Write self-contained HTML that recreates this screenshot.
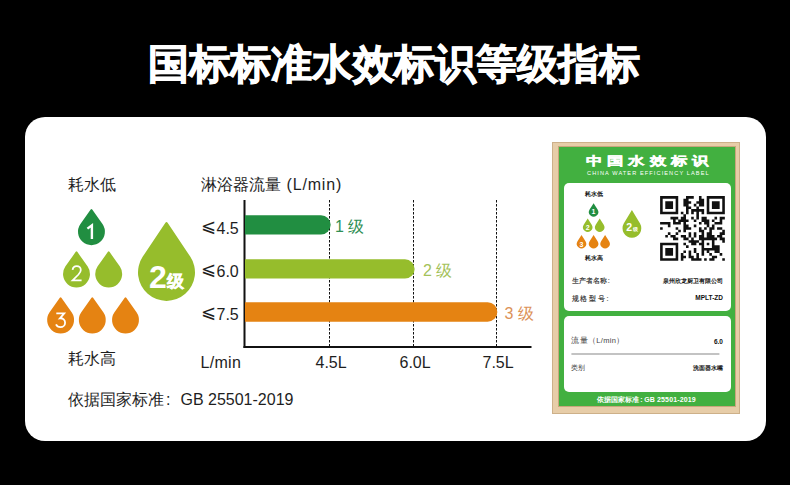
<!DOCTYPE html>
<html><head><meta charset="utf-8">
<style>
html,body{margin:0;padding:0}
body{width:790px;height:485px;background:#000;position:relative;overflow:hidden;font-family:"Liberation Sans",sans-serif}
.a{position:absolute;white-space:nowrap;line-height:1}
#title{left:148px;top:44px;color:#fff;font-size:40.6px;font-weight:bold;-webkit-text-stroke:1px #fff}
#card{left:25px;top:117px;width:741px;height:324px;background:#fff;border-radius:20px}
.t16{font-size:16px;color:#1e1e1e}
.g1{color:#2f8f55}.g2{color:#a4c25a}.g3{color:#dc9258}
.dig{color:#fff;font-size:20px}
#frame{left:552px;top:141.5px;width:187.5px;height:272px;background:#e7cda8;box-shadow:inset 0 0 0 1px #cdb089}
#green{left:558.8px;top:146.8px;width:176px;height:259.4px;background:#42b040;box-shadow:0 0 0 1px #c9a67c}
.pn{background:#fff;border-radius:5px}
.lt{font-size:7.3px;color:#2a2a2a;-webkit-text-stroke:0.15px #2a2a2a}
.lb{font-size:6px;color:#111;font-weight:bold}
.sd{font-size:7px;color:#fff;font-weight:bold}
</style></head><body>
<div class="a" id="title">国标标准水效标识等级指标</div>
<div class="a" id="card"></div>

<div class="a t16" style="left:68px;top:177px">耗水低</div>
<div class="a t16" style="left:68px;top:351px">耗水高</div>
<div class="a t16" style="left:68px;top:392px">依据国家标准<span style="margin-left:2px">:</span><span style="margin-left:10px">GB 25501-2019</span></div>

<svg class="a" style="left:0;top:0" width="790" height="485">
  <defs>
    <path id="drop" d="M-0.058,-1.668 Q0,-1.76 0.058,-1.668 L0.8327,-0.5714 A1,1 0 1 1 -0.8327,-0.5714 Z"/>
  </defs>
  <!-- left drops -->
  <use href="#drop" transform="translate(91.45,231.95) scale(13.45)" fill="#218e41"/>
  <use href="#drop" transform="translate(76.5,274.3) scale(13.45)" fill="#96bd2c"/>
  <use href="#drop" transform="translate(108.7,274.3) scale(13.45)" fill="#96bd2c"/>
  <use href="#drop" transform="translate(60.6,320.3) scale(13.45)" fill="#e58312"/>
  <use href="#drop" transform="translate(92.3,320.3) scale(13.45)" fill="#e58312"/>
  <use href="#drop" transform="translate(125.5,320.3) scale(13.45)" fill="#e58312"/>
  <path d="M-0.0444,-1.7335 Q0,-1.81 0.0444,-1.7335 L0.8315,-0.5556 A1,1 0 1 1 -0.8315,-0.5556 Z" transform="translate(166.5,272.4) scale(28.5)" fill="#96bd2c"/>
  <!-- chart axes -->
  <g stroke="#111" stroke-width="1" stroke-dasharray="2.5 1.5">
    <line x1="329.5" y1="200" x2="329.5" y2="346"/>
    <line x1="413.5" y1="200" x2="413.5" y2="346"/>
    <line x1="496.5" y1="200" x2="496.5" y2="346"/>
  </g>
  <rect x="243.5" y="200" width="2" height="148" fill="#111"/>
  <rect x="243.5" y="346" width="288" height="2" fill="#111"/>
  <path d="M245 215.2H321a9.65 9.65 0 0 1 0 19.3H245Z" fill="#218e41"/>
  <path d="M245 259.3H405a9.65 9.65 0 0 1 0 19.3H245Z" fill="#96bd2c"/>
  <path d="M245 302.2H487.6a9.75 9.75 0 0 1 0 19.5H245Z" fill="#e58312"/>
</svg>

<svg class="a" style="left:0;top:0" width="790" height="485" fill="none" stroke="#fff">
  <path d="M87.4,228.6 L91.9,225.3 V239.1" stroke-width="2.4"/>
  <path d="M72.6,269.8 C72.8,267.5 74.6,266.1 76.8,266.1 C79.1,266.1 80.8,267.8 80.8,270 C80.8,271.8 79.8,273.1 78.5,274.5 L72.6,280.3 H81.6" stroke-width="1.75"/>
  <path d="M56.3,313.4 H64.2 L59.9,318.3 C63.1,318 65.1,320.1 65.1,322.7 C65.1,325.3 63,327.2 60.4,327.2 C58.4,327.2 56.8,326.1 56,324.4" stroke-width="1.8"/>
</svg>
<div class="a" style="left:149px;top:261px;color:#fff;font-weight:bold"><span style="font-size:32px">2</span><span style="font-size:17px;position:relative;top:-1.5px;-webkit-text-stroke:0.4px #fff">级</span></div>

<div class="a t16" style="left:200.5px;top:177px">淋浴器流量 <span style="letter-spacing:0.85px;margin-left:1.5px">(L/min)</span></div>
<div class="a t16" style="left:201px;top:219px"><span style="position:relative;top:-2px;font-size:18px">⩽</span><span style="margin-left:0.5px">4.5</span></div>
<div class="a t16" style="left:201px;top:262px"><span style="position:relative;top:-2px;font-size:18px">⩽</span><span style="margin-left:0.5px">6.0</span></div>
<div class="a t16" style="left:201px;top:305px"><span style="position:relative;top:-2px;font-size:18px">⩽</span><span style="margin-left:0.5px">7.5</span></div>
<div class="a t16 g1" style="left:335px;top:219px">1 级</div>
<div class="a t16 g2" style="left:423px;top:262.5px">2 级</div>
<div class="a t16 g3" style="left:504.5px;top:305.5px">3 级</div>
<div class="a t16" style="left:200.5px;top:355px;letter-spacing:0.3px">L/min</div>
<div class="a t16" style="left:315.5px;top:354.5px">4.5L</div>
<div class="a t16" style="left:399.5px;top:354.5px">6.0L</div>
<div class="a t16" style="left:482.5px;top:354.5px">7.5L</div>

<!-- label -->
<div class="a" id="frame"></div>
<div class="a" id="green"></div>
<div class="a pn" style="left:563.5px;top:183px;width:167.5px;height:127.5px"></div>
<div class="a pn" style="left:563.5px;top:315.5px;width:167.5px;height:76.5px"></div>
<div class="a" style="left:586px;top:154.8px;color:#fff;font-size:14.5px;font-weight:bold;letter-spacing:3.9px;-webkit-text-stroke:0.5px #fff;transform:scale(1.12,0.82);transform-origin:0 0">中国水效标识</div>
<div class="a" style="left:587px;top:170.5px;color:#fff;font-size:5.6px;letter-spacing:1.1px">CHINA WATER EFFICIENCY LABEL</div>

<svg class="a" style="left:0;top:0" width="790" height="485">
  <defs>
    <path id="drop2" d="M0,-1.85 L0.8502,-0.5405 A1,1 0 1 1 -0.8502,-0.5405 Z"/>
  </defs>
  <use href="#drop2" transform="translate(593.6,212) scale(4.7)" fill="#218e41"/>
  <use href="#drop2" transform="translate(587.7,227.3) scale(4.7)" fill="#96bd2c"/>
  <use href="#drop2" transform="translate(599.7,227.3) scale(4.7)" fill="#96bd2c"/>
  <use href="#drop2" transform="translate(581.5,243.8) scale(4.7)" fill="#e58312"/>
  <use href="#drop2" transform="translate(593.6,243.8) scale(4.7)" fill="#e58312"/>
  <use href="#drop2" transform="translate(605.1,243.8) scale(4.7)" fill="#e58312"/>
  <path d="M0,-1.96 L0.8667,-0.5102 A1,1 0 1 1 -0.8667,-0.5102 Z" transform="translate(631.9,228.4) scale(9.4)" fill="#96bd2c"/>
  <g transform="translate(660.1,196.1) scale(2.59)" fill="#111"><path d="M0 0h7v1h-7zM10 0h3v1h-3zM15 0h1v1h-1zM18 0h7v1h-7zM0 1h1v1h-1zM6 1h1v1h-1zM9 1h2v1h-2zM15 1h2v1h-2zM18 1h1v1h-1zM24 1h1v1h-1zM0 2h1v1h-1zM2 2h3v1h-3zM6 2h1v1h-1zM9 2h3v1h-3zM14 2h3v1h-3zM18 2h1v1h-1zM20 2h3v1h-3zM24 2h1v1h-1zM0 3h1v1h-1zM2 3h3v1h-3zM6 3h1v1h-1zM9 3h2v1h-2zM13 3h1v1h-1zM15 3h2v1h-2zM18 3h1v1h-1zM20 3h3v1h-3zM24 3h1v1h-1zM0 4h1v1h-1zM2 4h3v1h-3zM6 4h1v1h-1zM10 4h2v1h-2zM14 4h1v1h-1zM18 4h1v1h-1zM20 4h3v1h-3zM24 4h1v1h-1zM0 5h1v1h-1zM6 5h1v1h-1zM10 5h1v1h-1zM12 5h5v1h-5zM18 5h1v1h-1zM24 5h1v1h-1zM0 6h7v1h-7zM8 6h1v1h-1zM10 6h1v1h-1zM12 6h1v1h-1zM14 6h1v1h-1zM16 6h1v1h-1zM18 6h7v1h-7zM9 7h1v1h-1zM14 7h1v1h-1zM4 8h3v1h-3zM8 8h2v1h-2zM12 8h1v1h-1zM14 8h1v1h-1zM16 8h2v1h-2zM21 8h1v1h-1zM23 8h2v1h-2zM5 9h1v1h-1zM7 9h4v1h-4zM13 9h1v1h-1zM16 9h3v1h-3zM20 9h1v1h-1zM23 9h1v1h-1zM0 10h4v1h-4zM5 10h3v1h-3zM9 10h1v1h-1zM15 10h1v1h-1zM17 10h2v1h-2zM21 10h3v1h-3zM3 11h1v1h-1zM9 11h2v1h-2zM13 11h1v1h-1zM18 11h1v1h-1zM20 11h1v1h-1zM0 12h1v1h-1zM6 12h1v1h-1zM9 12h3v1h-3zM15 12h1v1h-1zM17 12h1v1h-1zM19 12h2v1h-2zM22 12h2v1h-2zM7 13h1v1h-1zM9 13h1v1h-1zM15 13h2v1h-2zM19 13h1v1h-1zM24 13h1v1h-1zM3 14h1v1h-1zM6 14h1v1h-1zM11 14h1v1h-1zM13 14h1v1h-1zM16 14h1v1h-1zM18 14h2v1h-2zM23 14h2v1h-2zM2 15h1v1h-1zM4 15h2v1h-2zM8 15h2v1h-2zM11 15h1v1h-1zM13 15h1v1h-1zM15 15h2v1h-2zM18 15h3v1h-3zM22 15h2v1h-2zM5 16h2v1h-2zM9 16h2v1h-2zM12 16h1v1h-1zM15 16h7v1h-7zM23 16h2v1h-2zM11 17h4v1h-4zM16 17h1v1h-1zM20 17h1v1h-1zM24 17h1v1h-1zM0 18h7v1h-7zM9 18h1v1h-1zM12 18h2v1h-2zM15 18h2v1h-2zM18 18h1v1h-1zM20 18h1v1h-1zM0 19h1v1h-1zM6 19h1v1h-1zM10 19h1v1h-1zM16 19h1v1h-1zM20 19h3v1h-3zM0 20h1v1h-1zM2 20h3v1h-3zM6 20h1v1h-1zM13 20h1v1h-1zM16 20h7v1h-7zM0 21h1v1h-1zM2 21h3v1h-3zM6 21h1v1h-1zM9 21h1v1h-1zM11 21h1v1h-1zM13 21h1v1h-1zM16 21h1v1h-1zM18 21h1v1h-1zM21 21h2v1h-2zM0 22h1v1h-1zM2 22h3v1h-3zM6 22h1v1h-1zM8 22h1v1h-1zM11 22h1v1h-1zM14 22h1v1h-1zM16 22h1v1h-1zM19 22h1v1h-1zM23 22h1v1h-1zM0 23h1v1h-1zM6 23h1v1h-1zM8 23h2v1h-2zM11 23h2v1h-2zM14 23h1v1h-1zM20 23h2v1h-2zM0 24h7v1h-7zM8 24h1v1h-1zM12 24h4v1h-4zM17 24h1v1h-1zM19 24h2v1h-2zM24 24h1v1h-1z"/></g>
  <rect x="571.4" y="353.3" width="148" height="1.4" fill="#aaa"/>
</svg>
<div class="a lb" style="left:584.8px;top:190.8px;font-size:6.3px">耗水低</div>
<div class="a lb" style="left:584.8px;top:255.3px;font-size:6.3px">耗水高</div>
<div class="a sd" style="left:591.5px;top:208px">1</div>
<div class="a sd" style="left:585.8px;top:223.9px">2</div>
<div class="a sd" style="left:579.6px;top:241.2px">3</div>
<div class="a" style="left:626.3px;top:217.7px;color:#fff;font-weight:bold"><span style="font-size:10.6px">2</span><span style="font-size:5px;margin-left:0.3px">级</span></div>

<div class="a lt" style="left:571.6px;top:277.2px">生产者名称<span style="margin-left:1.2px">:</span></div>
<div class="a lb" style="right:67px;top:277.5px">泉州欣龙厨卫有限公司</div>
<div class="a lt" style="left:571.6px;top:295.4px;letter-spacing:1.7px">规格型号:</div>
<div class="a lb" style="right:67px;top:294.5px;font-size:6.5px">MPLT-ZD</div>
<div class="a lt" style="left:571.4px;top:337px;font-size:7.5px;letter-spacing:0.3px;-webkit-text-stroke:0;color:#444">流量（L/min）</div>
<div class="a lb" style="right:67px;top:339px;font-size:6.5px">6.0</div>
<div class="a lt" style="left:571.4px;top:364px;font-size:7px;-webkit-text-stroke:0;color:#444">类别</div>
<div class="a lb" style="right:67px;top:365.2px">洗面器水嘴</div>
<div class="a" style="left:597.2px;top:396px;color:#fff;font-size:7px;font-weight:bold"><span style="font-size:6.6px">依据国家标准</span><span style="margin-left:1px">:</span><span style="margin-left:1.6px;letter-spacing:0.15px">GB 25501-2019</span></div>
</body></html>
